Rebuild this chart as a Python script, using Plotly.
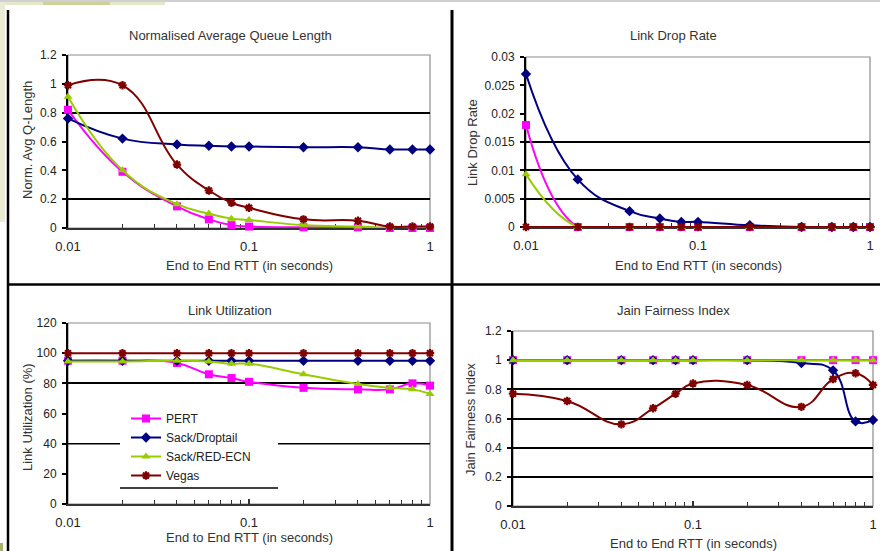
import plotly.graph_objects as go

# ---- data -------------------------------------------------------------
rtt = [0.01, 0.02, 0.04, 0.06, 0.08, 0.1, 0.2, 0.4, 0.6, 0.8, 1.0]
series_names = ["PERT", "Sack/Droptail", "Sack/RED-ECN", "Vegas"]

queue_pert = [0.82, 0.39, 0.15, 0.06, 0.02, 0.01, 0.005, 0.005, 0.0, 0.0, 0.0]
queue_droptail = [0.76, 0.62, 0.58, 0.57, 0.565, 0.565, 0.56, 0.56, 0.545, 0.545, 0.545]
queue_redecn = [0.91, 0.40, 0.165, 0.10, 0.065, 0.055, 0.02, 0.01, 0.0, 0.0, 0.0]
queue_vegas = [0.99, 0.99, 0.44, 0.26, 0.175, 0.14, 0.06, 0.05, 0.01, 0.01, 0.01]

drop_pert = [0.018, 0.0, 0.0, 0.0, 0.0, 0.0, 0.0, 0.0, 0.0, 0.0, 0.0]
drop_droptail = [0.027, 0.0084, 0.0028, 0.0015, 0.0009, 0.0009, 0.0003, 0.0, 0.0, 0.0, 0.0]
drop_redecn = [0.0093, 0.0, 0.0, 0.0, 0.0, 0.0, 0.0, 0.0, 0.0, 0.0, 0.0]
drop_vegas = [0.0, 0.0, 0.0, 0.0, 0.0, 0.0, 0.0, 0.0, 0.0, 0.0, 0.0]

util_pert = [95, 95, 93.5, 86, 83.5, 81, 77, 76, 76, 80, 78.5]
util_droptail = [95, 95, 95, 95, 95, 95, 95, 95, 95, 95, 95]
util_redecn = [94.5, 94.5, 95, 94.5, 93, 93, 86, 79.5, 77, 76, 73]
util_vegas = [100, 100, 100, 100, 100, 100, 100, 100, 100, 100, 100]

fair_pert = [1, 1, 1, 1, 1, 1, 1, 1, 1, 1, 1]
fair_droptail = [1, 1, 1, 1, 1, 1, 1, 0.98, 0.93, 0.58, 0.59]
fair_redecn = [1, 1, 1, 1, 1, 1, 1, 1, 1, 1, 1]
fair_vegas = [0.77, 0.72, 0.56, 0.67, 0.77, 0.84, 0.83, 0.68, 0.87, 0.91, 0.83]

x_tick_vals = [0.01, 0.1, 1]
x_tick_text = ["0.01", "0.1", "1"]
x_title = "End to End RTT (in seconds)"

panels = [
    dict(title="Normalised Average Queue Length", ytitle="Norm. Avg Q-Length",
         series=[queue_pert, queue_droptail, queue_redecn, queue_vegas],
         yticks=[0, 0.2, 0.4, 0.6, 0.8, 1, 1.2],
         yticktext=["0", "0.2", "0.4", "0.6", "0.8", "1", "1.2"],
         grid=[0.2, 0.8]),
    dict(title="Link Drop Rate", ytitle="Link Drop Rate",
         series=[drop_pert, drop_droptail, drop_redecn, drop_vegas],
         yticks=[0, 0.005, 0.01, 0.015, 0.02, 0.025, 0.03],
         yticktext=["0", "0.005", "0.01", "0.015", "0.02", "0.025", "0.03"],
         grid=[0.005, 0.01, 0.015]),
    dict(title="Link Utilization", ytitle="Link Utilization (%)",
         series=[util_pert, util_droptail, util_redecn, util_vegas],
         yticks=[0, 20, 40, 60, 80, 100, 120],
         yticktext=["0", "20", "40", "60", "80", "100", "120"],
         grid=[80]),
    dict(title="Jain Fairness Index", ytitle="Jain Fairness Index",
         series=[fair_pert, fair_droptail, fair_redecn, fair_vegas],
         yticks=[0, 0.2, 0.4, 0.6, 0.8, 1, 1.2],
         yticktext=["0", "0.2", "0.4", "0.6", "0.8", "1", "1.2"],
         grid=[0.2, 0.4, 0.6, 0.8, 1.0]),
]
# gridline in the utilization panel that is broken around the legend
util_split_grid = 40

# ---- styling ----------------------------------------------------------
W, H = 880, 551
FONT = "Arial, 'Liberation Sans', sans-serif"
colors = ["#FF00FF", "#000080", "#99CC00", "#800000"]
symbols = ["square", "diamond", "triangle-up", "asterisk-open"]
msizes = [8, 8, 8, 7]

# plot-area boxes in pixels: left, right, top, bottom
boxes = [(68, 430, 55, 228), (526, 870, 57, 227), (68, 430, 323, 504), (513, 873, 331, 506)]
title_pos = [(230, 35), (673, 35), (230, 310), (673, 310)]
ytitle_pos = [(27, 140), (472, 143), (27, 417), (470, 420)]
xtitle_pos = [(249, 265), (698, 265), (249, 537), (693, 543)]


def px(x):
    return x / W


def py(y):
    return 1 - y / H


fig = go.Figure()
layout = dict(width=W, height=H, margin=dict(l=0, r=0, t=0, b=0, pad=0), autosize=False,
              paper_bgcolor="white", plot_bgcolor="white",
              font=dict(family=FONT, size=12, color="#222"))
annotations = []
shapes = []


def label(text, x, y, size=13, angle=0):
    annotations.append(dict(text=text, x=px(x), y=py(y), xref="paper", yref="paper",
                            xanchor="center", yanchor="middle", showarrow=False,
                            textangle=angle, font=dict(size=size, color="#333")))


for i, p in enumerate(panels):
    n = i + 1
    sx = "" if n == 1 else str(n)
    l, r, t, b = boxes[i]
    for k, name in enumerate(series_names):
        fig.add_trace(go.Scatter(
            x=rtt, y=p["series"][k], name=name, xaxis="x" + sx, yaxis="y" + sx,
            mode="lines+markers",
            line=dict(color=colors[k], width=2, shape="spline", smoothing=1.3),
            marker=dict(symbol=symbols[k], size=msizes[k], color=colors[k],
                        line=dict(color=colors[k], width=2.2 if k == 3 else 0)),
            showlegend=(n == 3), cliponaxis=False,
        ))
    layout["xaxis" + sx] = dict(
        type="log", domain=[px(l), px(r)], anchor="y" + sx, automargin=False,
        range=[-2, 0], tickvals=x_tick_vals, ticktext=x_tick_text,
        showgrid=False, zeroline=False, showline=True, linecolor="#333", linewidth=1.5,
        ticks="inside", ticklen=5, tickcolor="#333", tickwidth=1.5,
        ticklabelstandoff=6, tickfont=dict(size=13, color="#222"),
        minor=dict(dtick="D1", ticks="inside", ticklen=4, tickcolor="#333", tickwidth=1.2, showgrid=False),
        layer="below traces", fixedrange=True,
    )
    yr = p["yticks"]
    layout["yaxis" + sx] = dict(
        domain=[py(b), py(t)], anchor="x" + sx, range=[yr[0], yr[-1]], automargin=False,
        tickvals=p["yticks"], ticktext=p["yticktext"],
        showgrid=False, zeroline=False, showline=True, linecolor="black", linewidth=2,
        ticks="outside", ticklen=4, tickcolor="black", tickwidth=1.5,
        ticklabelstandoff=3, tickfont=dict(size=12, color="#222"),
        minor=dict(tickvals=p["grid"], ticks="", showgrid=True, gridcolor="black", gridwidth=1.5),
        layer="below traces", fixedrange=True,
    )
    # plot-area frame
    shapes.append(dict(type="rect", xref="x%s domain" % sx, yref="y%s domain" % sx,
                       x0=0, x1=1, y0=0, y1=1, line=dict(color="#8c8c8c", width=1.2),
                       layer="below"))
    label(p["title"], *title_pos[i])
    label(p["ytitle"], *ytitle_pos[i], size=13, angle=-90)
    label(x_title, *xtitle_pos[i])

# legend area inside the utilization panel: split gridline and lower rule
l3, r3, t3, b3 = boxes[2]
lx0, lx1, ly1 = 120, 278, 488
fx0 = (lx0 - l3) / (r3 - l3)
fx1 = (lx1 - l3) / (r3 - l3)
for a, c in [(0, fx0), (fx1, 1)]:
    shapes.append(dict(type="line", xref="x3 domain", yref="y3", x0=a, x1=c,
                       y0=util_split_grid, y1=util_split_grid,
                       line=dict(color="black", width=1.5), layer="below"))
shapes.append(dict(type="line", xref="paper", yref="paper",
                   x0=px(lx0), x1=px(lx1), y0=py(ly1), y1=py(ly1),
                   line=dict(color="black", width=1.5)))

# slide decoration and panel dividers
shapes += [
    dict(type="rect", xref="paper", yref="paper", x0=0, x1=px(165), y0=py(5), y1=1,
         fillcolor="#e6e8cc", line=dict(width=0), layer="below"),
    dict(type="rect", xref="paper", yref="paper", x0=px(43), x1=px(110), y0=py(5), y1=1,
         fillcolor="#cdd19a", line=dict(width=0), layer="below"),
    dict(type="rect", xref="paper", yref="paper", x0=0, x1=px(5), y0=py(222), y1=1,
         fillcolor="#ebecd6", line=dict(width=0), layer="below"),
    dict(type="rect", xref="paper", yref="paper", x0=0, x1=px(3), y0=0, y1=py(543),
         fillcolor="#a9b36a", line=dict(width=0), layer="below"),
    dict(type="line", xref="paper", yref="paper", x0=0, x1=1, y0=py(1), y1=py(1),
         line=dict(color="#d0d0d0", width=2)),
    dict(type="line", xref="paper", yref="paper", x0=px(8), x1=px(8), y0=0, y1=py(10),
         line=dict(color="black", width=2.5)),
    dict(type="line", xref="paper", yref="paper", x0=px(452), x1=px(452), y0=0, y1=py(10),
         line=dict(color="black", width=3)),
    dict(type="line", xref="paper", yref="paper", x0=px(8), x1=1, y0=py(284.5), y1=py(284.5),
         line=dict(color="black", width=2.5)),
]

layout["annotations"] = annotations
layout["shapes"] = shapes
layout["legend"] = dict(x=px(126), y=py(404), xanchor="left", yanchor="top",
                        bgcolor="rgba(0,0,0,0)", borderwidth=0, tracegroupgap=0,
                        font=dict(size=12, color="#222"))
fig.update_layout(**layout)
fig.write_html("out.html")
